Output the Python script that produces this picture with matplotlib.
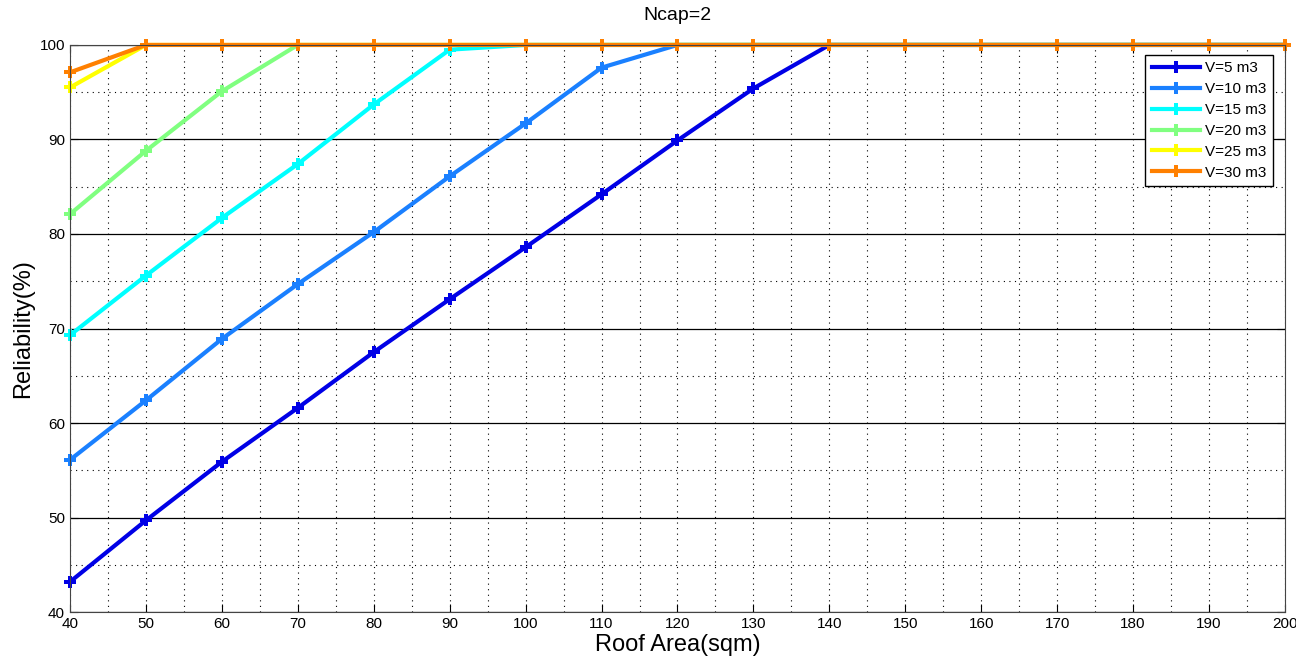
import numpy as np
import matplotlib
matplotlib.use("Agg")
import matplotlib.pyplot as plt
from matplotlib.ticker import MultipleLocator

plt.rcParams["font.family"] = ["Liberation Sans", "DejaVu Sans"]

roof_area = [40, 50, 60, 70, 80, 90, 100, 110, 120, 130, 140, 150, 160, 170, 180, 190, 200]

rel_v5 = [43.2, 49.7, 55.9, 61.6, 67.5, 73.1, 78.6, 84.2, 89.9, 95.4, 100, 100, 100, 100, 100, 100, 100]
rel_v10 = [56.1, 62.4, 68.9, 74.7, 80.2, 86.1, 91.7, 97.6, 100, 100, 100, 100, 100, 100, 100, 100, 100]
rel_v15 = [69.3, 75.6, 81.7, 87.4, 93.7, 99.5, 100, 100, 100, 100, 100, 100, 100, 100, 100, 100, 100]
rel_v20 = [82.1, 88.8, 95.1, 100, 100, 100, 100, 100, 100, 100, 100, 100, 100, 100, 100, 100, 100]
rel_v25 = [95.5, 100, 100, 100, 100, 100, 100, 100, 100, 100, 100, 100, 100, 100, 100, 100, 100]
rel_v30 = [97.1, 100, 100, 100, 100, 100, 100, 100, 100, 100, 100, 100, 100, 100, 100, 100, 100]

series_labels = ["V=5 m3", "V=10 m3", "V=15 m3", "V=20 m3", "V=25 m3", "V=30 m3"]
series_colors = ["#0000E6", "#1A80FF", "#00FFFF", "#80FF80", "#FFFF00", "#FF8000"]
series_values = [rel_v5, rel_v10, rel_v15, rel_v20, rel_v25, rel_v30]

fig = plt.figure(figsize=(12.96, 6.61), dpi=100)
ax = fig.add_axes([0.054, 0.074, 0.9375, 0.858])

for vals, col, lab in zip(series_values, series_colors, series_labels):
    ax.plot(roof_area, vals, color=col, linewidth=3, marker="P",
            markersize=9, markeredgewidth=0, label=lab, clip_on=False)

ax.set_xlim(40, 200)
ax.set_ylim(40, 100)
ax.xaxis.set_major_locator(MultipleLocator(10))
ax.xaxis.set_minor_locator(MultipleLocator(5))
ax.yaxis.set_major_locator(MultipleLocator(10))
ax.yaxis.set_minor_locator(MultipleLocator(5))

ax.grid(axis="x", which="both", color="black", linestyle=(0, (1, 4)), linewidth=0.8)
ax.grid(axis="y", which="major", color="black", linestyle="-", linewidth=0.9)
ax.grid(axis="y", which="minor", color="black", linestyle=(0, (1, 4)), linewidth=0.8)
ax.set_axisbelow(True)

ax.tick_params(which="major", direction="in", length=6, labelsize=11, top=True, right=True)
ax.tick_params(which="minor", length=0)
for s in ax.spines.values():
    s.set_color("#444444")

ax.set_title("Ncap=2", fontsize=14, pad=18)
ax.set_xlabel("Roof Area(sqm)", fontsize=17, labelpad=2)
ax.set_ylabel("Reliability(%)", fontsize=17, labelpad=4)

leg = ax.legend(loc="upper right", bbox_to_anchor=(0.9935, 0.99), fontsize=11,
                fancybox=False, edgecolor="black", framealpha=1,
                handlelength=3.2, handletextpad=0.3, borderpad=0.4,
                borderaxespad=0.3, labelspacing=0.45)
leg.get_frame().set_linewidth(1)
leg.set_zorder(5)

fig.savefig("out.png", dpi=100)
